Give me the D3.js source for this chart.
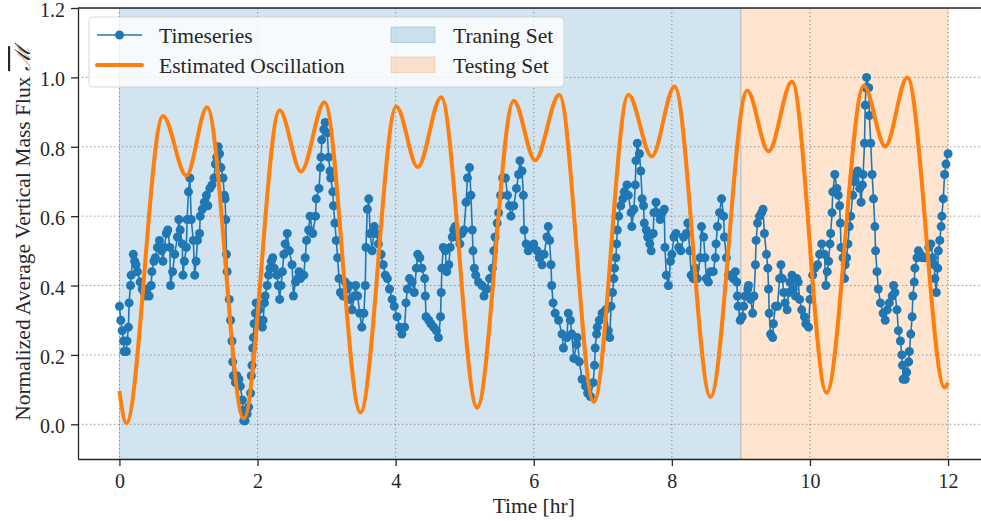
<!DOCTYPE html>
<html>
<head>
<meta charset="utf-8">
<script src="https://cdn.jsdelivr.net/npm/d3@7"></script>
<style>
  body { margin: 0; background: #fff; }
  svg { display: block; font-family: "Liberation Serif", "DejaVu Serif", serif; }
</style>
</head>
<body>
<script>
// Recreation of the oscillation / timeseries chart

//////////////////////////////////////////////////////////////////////////////
// Data

// measured timeseries (hours, normalized flux)
let tsHours = [
  0.00,0.02,0.04,0.06,0.07,0.10,0.11,0.13,0.14,0.16,0.17,0.20,0.22,0.24,0.26,0.30,0.33,0.36,0.38,0.40,
  0.43,0.46,0.47,0.50,0.52,0.55,0.58,0.61,0.63,0.65,0.68,0.70,0.73,0.74,0.77,0.80,0.84,0.86,0.88,0.91,
  0.92,0.94,0.97,0.98,1.00,1.02,1.04,1.07,1.09,1.11,1.13,1.16,1.17,1.20,1.23,1.26,1.28,1.31,1.34,1.37,
  1.39,1.41,1.43,1.45,1.47,1.50,1.52,1.53,1.54,1.55,1.56,1.59,1.61,1.63,1.64,1.65,1.68,1.70,1.73,1.75,
  1.78,1.79,1.80,1.82,1.85,1.87,1.90,1.91,1.92,1.93,1.94,1.95,1.97,1.98,2.02,2.04,2.07,2.08,2.10,2.11,
  2.14,2.16,2.18,2.20,2.22,2.24,2.28,2.30,2.32,2.34,2.36,2.38,2.40,2.43,2.46,2.50,2.52,2.55,2.58,2.60,
  2.62,2.67,2.69,2.71,2.74,2.76,2.80,2.84,2.85,2.89,2.91,2.92,2.93,2.96,2.98,3.01,3.03,3.05,3.06,3.09,
  3.10,3.12,3.14,3.16,3.18,3.20,3.24,3.27,3.30,3.32,3.34,3.37,3.40,3.42,3.45,3.48,3.51,3.54,3.56,3.57,
  3.59,3.61,3.63,3.66,3.69,3.72,3.75,3.79,3.82,3.85,3.88,3.91,3.95,3.98,4.02,4.06,4.09,4.13,4.15,4.17,
  4.20,4.24,4.27,4.30,4.32,4.35,4.38,4.42,4.43,4.44,4.48,4.51,4.55,4.59,4.62,4.65,4.66,4.67,4.69,4.72,
  4.74,4.77,4.79,4.82,4.84,4.86,4.89,4.93,4.96,4.99,5.02,5.04,5.07,5.09,5.11,5.12,5.14,5.16,5.20,5.25,
  5.28,5.32,5.36,5.40,5.42,5.44,5.47,5.49,5.52,5.55,5.59,5.62,5.65,5.67,5.71,5.75,5.78,5.80,5.83,5.85,
  5.86,5.89,5.92,5.96,6.00,6.05,6.08,6.12,6.15,6.19,6.21,6.23,6.25,6.26,6.28,6.31,6.36,6.41,6.43,6.48,
  6.50,6.53,6.55,6.58,6.62,6.63,6.66,6.70,6.75,6.78,6.82,6.86,6.88,6.89,6.91,6.92,6.95,6.99,7.04,7.08,
  7.10,7.12,7.14,7.16,7.17,7.19,7.20,7.21,7.23,7.26,7.29,7.31,7.35,7.37,7.41,7.42,7.45,7.47,7.48,7.50,
  7.53,7.55,7.57,7.59,7.60,7.63,7.65,7.68,7.70,7.73,7.74,7.77,7.79,7.83,7.86,7.89,7.90,7.92,7.95,7.98,
  8.00,8.03,8.06,8.10,8.13,8.17,8.21,8.23,8.26,8.28,8.31,8.34,8.37,8.41,8.43,8.46,8.48,8.50,8.53,8.56,
  8.60,8.63,8.64,8.66,8.69,8.72,8.75,8.76,8.79,8.82,8.85,8.89,8.92,8.94,8.95,8.96,8.99,9.02,9.04,9.06,
  9.10,9.11,9.14,9.17,9.19,9.21,9.22,9.24,9.27,9.30,9.32,9.34,9.37,9.39,9.40,9.41,9.43,9.46,9.47,9.50,
  9.53,9.56,9.58,9.60,9.62,9.64,9.67,9.69,9.71,9.74,9.76,9.79,9.81,9.83,9.85,9.88,9.92,9.94,9.98,10.00,
  10.01,10.04,10.07,10.11,10.14,10.17,10.21,10.23,10.25,10.27,10.29,10.30,10.32,10.33,10.36,10.39,10.41,10.43,10.44,10.45,
  10.48,10.50,10.51,10.53,10.55,10.57,10.59,10.62,10.64,10.66,10.69,10.72,10.74,10.76,10.77,10.79,10.80,10.81,10.82,10.85,
  10.86,10.88,10.90,10.92,10.94,10.95,10.97,10.99,11.02,11.06,11.09,11.12,11.15,11.19,11.21,11.23,11.26,11.28,11.31,11.33,
  11.34,11.35,11.38,11.40,11.43,11.44,11.46,11.48,11.49,11.51,11.52,11.55,11.57,11.60,11.63,11.67,11.72,11.75,11.78,11.80,
  11.81,11.83,11.85,11.86,11.88,11.90,11.91,11.93,11.95,11.97,12.00
];
let tsValues = [
  0.34,0.30,0.27,0.24,0.21,0.21,0.24,0.28,0.35,0.40,0.43,0.49,0.47,0.46,0.44,0.41,0.39,0.38,0.37,0.39,
  0.37,0.40,0.44,0.47,0.48,0.51,0.53,0.50,0.47,0.51,0.55,0.56,0.51,0.40,0.44,0.49,0.54,0.59,0.56,0.52,
  0.43,0.47,0.51,0.59,0.67,0.71,0.59,0.53,0.43,0.47,0.53,0.55,0.60,0.62,0.64,0.66,0.63,0.68,0.69,0.71,
  0.75,0.77,0.80,0.78,0.74,0.71,0.66,0.65,0.59,0.49,0.44,0.36,0.30,0.24,0.18,0.14,0.12,0.14,0.13,0.11,
  0.07,0.04,0.01,0.01,0.03,0.05,0.09,0.14,0.17,0.22,0.25,0.29,0.32,0.35,0.33,0.30,0.28,0.30,0.35,0.37,
  0.40,0.43,0.45,0.47,0.48,0.45,0.43,0.40,0.36,0.40,0.44,0.49,0.52,0.55,0.50,0.46,0.37,0.41,0.42,0.44,
  0.42,0.43,0.48,0.53,0.56,0.60,0.55,0.60,0.65,0.68,0.74,0.77,0.82,0.85,0.87,0.84,0.77,0.73,0.71,0.67,
  0.63,0.58,0.53,0.48,0.42,0.38,0.37,0.41,0.39,0.40,0.36,0.33,0.37,0.40,0.37,0.32,0.28,0.32,0.40,0.51,
  0.62,0.65,0.55,0.50,0.57,0.55,0.52,0.49,0.46,0.43,0.42,0.39,0.36,0.34,0.31,0.28,0.26,0.28,0.35,0.39,
  0.42,0.41,0.38,0.45,0.49,0.48,0.45,0.42,0.37,0.31,0.30,0.29,0.28,0.27,0.25,0.31,0.38,0.45,0.51,0.50,
  0.44,0.46,0.51,0.54,0.56,0.57,0.54,0.52,0.55,0.56,0.64,0.71,0.74,0.66,0.56,0.50,0.45,0.43,0.41,0.40,
  0.37,0.39,0.42,0.45,0.50,0.54,0.58,0.61,0.66,0.71,0.71,0.66,0.63,0.60,0.63,0.68,0.72,0.76,0.73,0.66,
  0.56,0.52,0.50,0.51,0.52,0.50,0.48,0.46,0.49,0.54,0.57,0.53,0.46,0.40,0.35,0.32,0.30,0.26,0.22,0.25,
  0.32,0.30,0.26,0.19,0.23,0.25,0.18,0.13,0.11,0.09,0.08,0.12,0.17,0.22,0.26,0.28,0.30,0.32,0.33,0.27,
  0.25,0.34,0.38,0.42,0.45,0.48,0.52,0.56,0.60,0.63,0.65,0.67,0.69,0.66,0.61,0.57,0.62,0.69,0.76,0.81,
  0.78,0.73,0.65,0.63,0.58,0.56,0.54,0.52,0.50,0.55,0.61,0.64,0.61,0.59,0.61,0.62,0.51,0.43,0.40,0.47,
  0.49,0.54,0.55,0.51,0.50,0.54,0.55,0.58,0.50,0.43,0.42,0.45,0.42,0.48,0.57,0.54,0.48,0.42,0.41,0.44,
  0.44,0.48,0.52,0.57,0.61,0.65,0.60,0.54,0.48,0.43,0.43,0.42,0.44,0.41,0.37,0.34,0.30,0.31,0.34,0.37,
  0.39,0.40,0.36,0.32,0.37,0.46,0.53,0.58,0.60,0.61,0.62,0.55,0.49,0.45,0.39,0.32,0.26,0.25,0.29,0.34,
  0.34,0.42,0.46,0.42,0.38,0.35,0.33,0.38,0.41,0.43,0.39,0.37,0.42,0.41,0.36,0.33,0.31,0.29,0.28,0.36,
  0.39,0.43,0.45,0.46,0.49,0.52,0.49,0.40,0.44,0.47,0.52,0.55,0.61,0.67,0.72,0.68,0.66,0.63,0.58,0.51,
  0.48,0.42,0.46,0.48,0.52,0.57,0.60,0.66,0.70,0.72,0.73,0.68,0.64,0.69,0.72,0.81,0.92,0.97,1.00,0.97,
  0.89,0.81,0.72,0.65,0.57,0.50,0.44,0.39,0.35,0.32,0.30,0.33,0.35,0.37,0.40,0.38,0.33,0.27,0.24,0.20,
  0.17,0.13,0.13,0.15,0.18,0.21,0.26,0.31,0.37,0.41,0.45,0.48,0.50,0.49,0.48,0.48,0.51,0.52,0.48,0.46,
  0.42,0.38,0.45,0.50,0.53,0.57,0.60,0.65,0.72,0.75,0.78
];

// fitted oscillation: turning points (hours, value)
let oscHours = [0, 0.10, 0.63, 0.97, 1.27, 1.80, 2.32, 2.63, 2.97, 3.49, 4.01, 4.32, 4.66, 5.18, 5.71, 6.02,
  6.37, 6.87, 7.37, 7.71, 8.04, 8.56, 9.09, 9.40, 9.74, 10.24, 10.78, 11.09, 11.41, 11.95, 12.0];
let oscValues = [0.096, 0.003, 0.889, 0.717, 0.914, 0.017, 0.905, 0.729, 0.928, 0.034, 0.916, 0.741, 0.943, 0.048, 0.933, 0.761,
  0.95, 0.064, 0.95, 0.772, 0.974, 0.079, 0.962, 0.787, 0.988, 0.091, 0.976, 0.801, 1.0, 0.106, 0.12];

// train / test ranges in hours
let trainRange = [0, 9];
let testRange = [9, 12];

let xTicks = [0, 2, 4, 6, 8, 10, 12];
let yTicks = [0.0, 0.2, 0.4, 0.6, 0.8, 1.0, 1.2];

//////////////////////////////////////////////////////////////////////////////
// Canvas and scales

let width = 981;
let height = 521;
let pLeft = 78, pRight = 989.5, pTop = 8, pBottom = 459;

let blue = "#1f77b4";
let orange = "#ff7f0e";
let ink = "#262626";

let svg = d3.select("body").append("svg")
  .attr("width", width)
  .attr("height", height);

let x = d3.scaleLinear().domain([-0.6, 12.6]).range([pLeft, pRight]);
let y = d3.scaleLinear().domain([-0.1, 1.2]).range([pBottom, pTop]);

svg.append("clipPath").attr("id", "plotArea")
  .append("rect")
  .attr("x", pLeft).attr("y", pTop)
  .attr("width", pRight - pLeft).attr("height", pBottom - pTop);

let plot = svg.append("g").attr("clip-path", "url(#plotArea)");

// shaded training / testing spans
plot.selectAll(".span")
  .data([{ r: trainRange, c: blue }, { r: testRange, c: orange }])
  .join("rect")
  .attr("x", d => x(d.r[0]))
  .attr("y", pTop)
  .attr("width", d => x(d.r[1]) - x(d.r[0]))
  .attr("height", pBottom - pTop)
  .attr("fill", d => d.c)
  .attr("fill-opacity", 0.2)
  .attr("stroke", d => d.c)
  .attr("stroke-opacity", 0.25)
  .attr("stroke-width", 1);

// dotted grid
plot.selectAll(".gx")
  .data(xTicks)
  .join("line")
  .attr("x1", d => x(d)).attr("x2", d => x(d))
  .attr("y1", pTop).attr("y2", pBottom)
  .attr("stroke", "#8a8a8a")
  .attr("stroke-width", 1)
  .attr("stroke-dasharray", "1.3,2.7");

plot.selectAll(".gy")
  .data(yTicks)
  .join("line")
  .attr("x1", pLeft).attr("x2", pRight)
  .attr("y1", d => y(d)).attr("y2", d => y(d))
  .attr("stroke", "#8a8a8a")
  .attr("stroke-width", 1)
  .attr("stroke-dasharray", "1.3,2.7");

// timeseries
let ts = tsHours.map((t, i) => [t, tsValues[i]]);

plot.append("path")
  .datum(ts)
  .attr("fill", "none")
  .attr("stroke", blue)
  .attr("stroke-width", 1.6)
  .attr("d", d3.line().x(d => x(d[0])).y(d => y(d[1])));

plot.selectAll(".pt")
  .data(ts)
  .join("circle")
  .attr("cx", d => x(d[0]))
  .attr("cy", d => y(d[1]))
  .attr("r", 4.5)
  .attr("fill", blue);

// estimated oscillation
let osc = oscHours.map((t, i) => [t, oscValues[i]]);

plot.append("path")
  .datum(osc)
  .attr("fill", "none")
  .attr("stroke", orange)
  .attr("stroke-width", 4)
  .attr("d", d3.line().curve(d3.curveMonotoneX).x(d => x(d[0])).y(d => y(d[1])));

//////////////////////////////////////////////////////////////////////////////
// Axes

let xAxis = svg.append("g")
  .attr("transform", `translate(0,${pBottom})`)
  .call(d3.axisBottom(x).tickValues(xTicks).tickFormat(d3.format("d"))
    .tickSize(7).tickSizeOuter(0).tickPadding(7.8));

let yAxis = svg.append("g")
  .attr("transform", `translate(${pLeft},0)`)
  .call(d3.axisLeft(y).tickValues(yTicks).tickFormat(d3.format(".1f"))
    .tickSize(7).tickSizeOuter(0).tickPadding(6));

[xAxis, yAxis].forEach(a => {
  a.attr("font-family", null).attr("font-size", null);
  a.select(".domain").attr("stroke", ink).attr("stroke-width", 1.3);
  a.selectAll(".tick line").attr("stroke", ink).attr("stroke-width", 1.3);
  a.selectAll(".tick text").attr("fill", ink).style("font-size", "20px");
});
yAxis.selectAll(".tick text").attr("dy", "0.43em");

// top spine
svg.append("line")
  .attr("x1", pLeft).attr("x2", pRight)
  .attr("y1", pTop).attr("y2", pTop)
  .attr("stroke", ink).attr("stroke-width", 1.3);

// axis labels
svg.append("text")
  .attr("x", (pLeft + pRight) / 2)
  .attr("y", 513)
  .attr("text-anchor", "middle")
  .attr("fill", ink)
  .style("font-size", "21.5px")
  .text("Time [hr]");

let yLabel = svg.append("text")
  .attr("transform", `translate(30,${(pTop + pBottom) / 2}) rotate(-90)`)
  .attr("text-anchor", "middle")
  .attr("fill", ink)
  .style("font-size", "21.5px");
yLabel.append("tspan").text("Normalized Average Vertical Mass Flux ");
yLabel.append("tspan")
  .style("font-family", "'DejaVu Serif', serif")
  .style("font-style", "italic")
  .style("text-decoration", "overline")
  .text("\u2133");

//////////////////////////////////////////////////////////////////////////////
// Legend

let legend = svg.append("g");

legend.append("rect")
  .attr("x", 89).attr("y", 17)
  .attr("width", 475).attr("height", 70)
  .attr("rx", 4)
  .attr("fill", "#fff").attr("fill-opacity", 0.8)
  .attr("stroke", "#cccccc").attr("stroke-opacity", 0.8);

let rowY = [35, 65];

legend.append("line")
  .attr("x1", 97).attr("x2", 142).attr("y1", rowY[0]).attr("y2", rowY[0])
  .attr("stroke", blue).attr("stroke-width", 1.6);
legend.append("circle")
  .attr("cx", 119.5).attr("cy", rowY[0]).attr("r", 4.5).attr("fill", blue);

legend.append("line")
  .attr("x1", 97).attr("x2", 142).attr("y1", rowY[1]).attr("y2", rowY[1])
  .attr("stroke", orange).attr("stroke-width", 4).attr("stroke-linecap", "round");

[{ c: blue, y: rowY[0] }, { c: orange, y: rowY[1] }].forEach(p => {
  legend.append("rect")
    .attr("x", 391).attr("y", p.y - 8)
    .attr("width", 44).attr("height", 15.5)
    .attr("fill", p.c).attr("fill-opacity", 0.2)
    .attr("stroke", p.c).attr("stroke-opacity", 0.25);
});

let labels = [
  { t: "Timeseries", x: 159, y: rowY[0] },
  { t: "Estimated Oscillation", x: 159, y: rowY[1] },
  { t: "Traning Set", x: 453, y: rowY[0] },
  { t: "Testing Set", x: 453, y: rowY[1] }
];
legend.selectAll(".lbl")
  .data(labels)
  .join("text")
  .attr("x", d => d.x)
  .attr("y", d => d.y + 7.7)
  .attr("fill", ink)
  .style("font-size", "21.5px")
  .text(d => d.t);
</script>
</body>
</html>
